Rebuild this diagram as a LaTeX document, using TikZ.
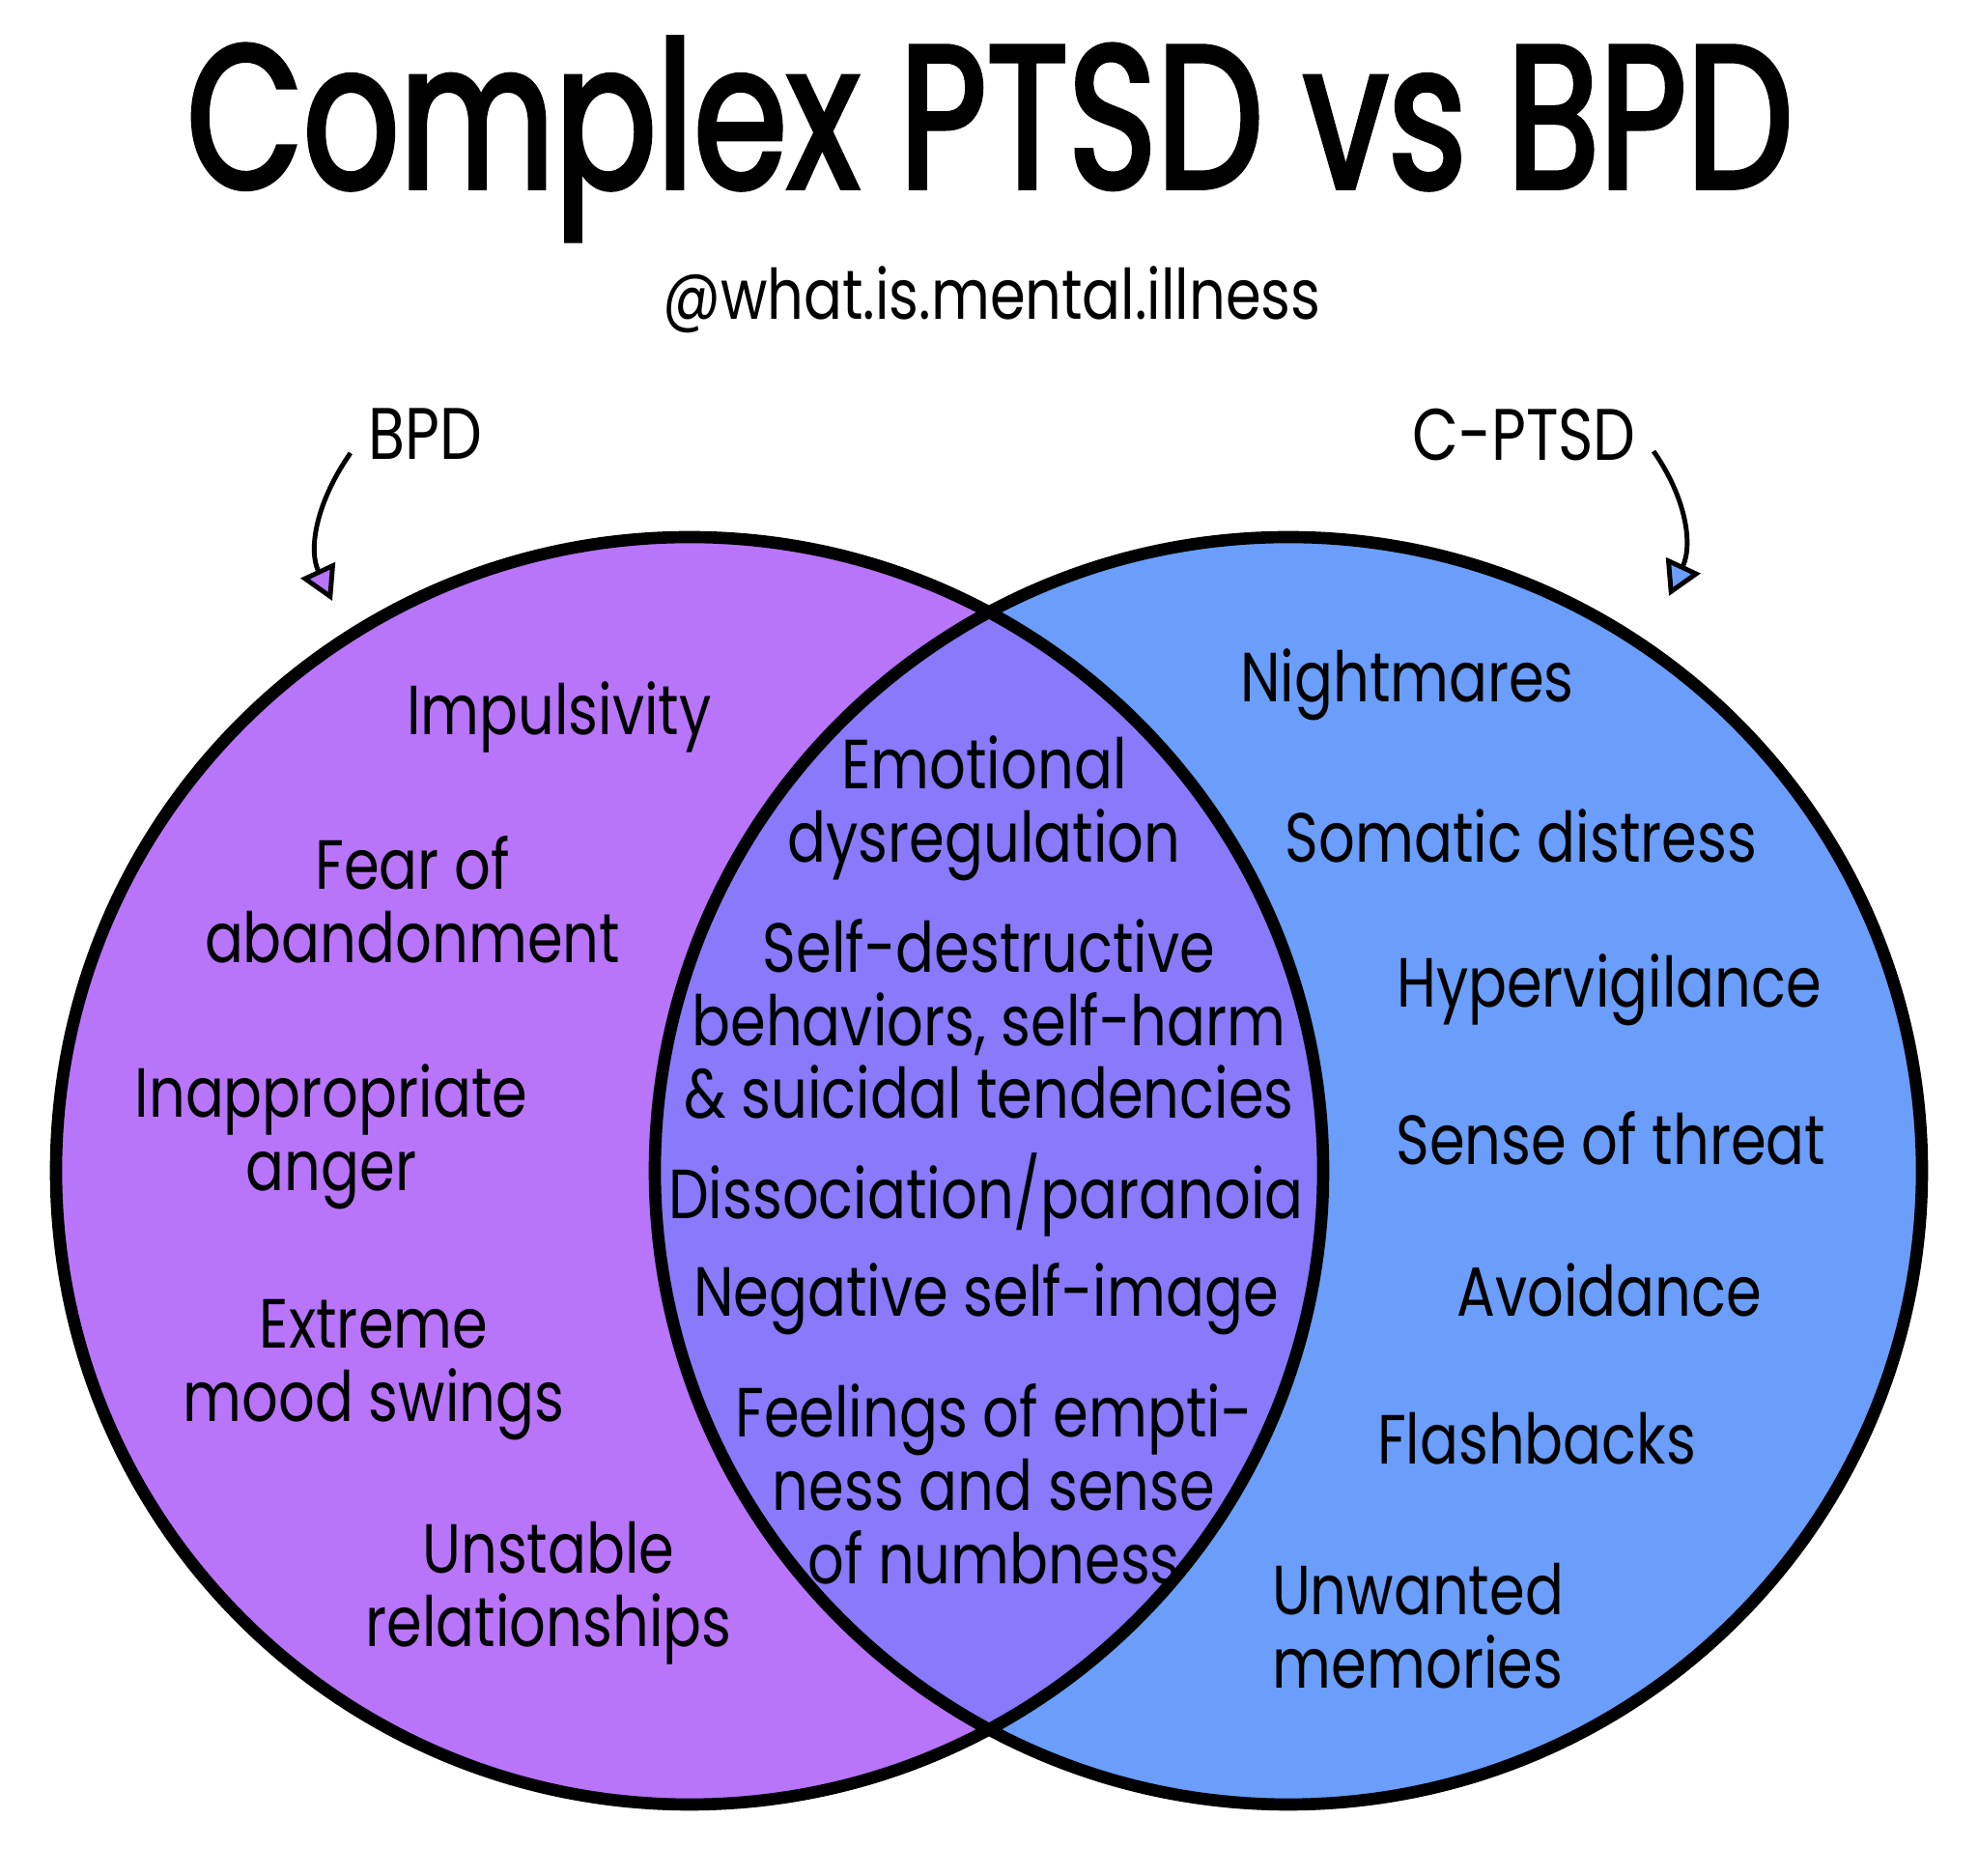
\documentclass[tikz,border=0pt]{standalone}
\usepackage{fontspec}
\setmainfont{Poppins}[FakeStretch=0.82]
\newfontfamily\titlefont{Poppins}[FakeStretch=0.74,FakeBold=2.2]
\usetikzlibrary{positioning,arrows.meta}
\definecolor{bpdpurple}{RGB}{184,117,250}
\definecolor{ptsdblue}{RGB}{106,158,250}
\definecolor{bothviolet}{RGB}{138,121,250}

\begin{document}
\begin{tikzpicture}[
    set/.style={line width=3.6pt},
    item/.style={
        align=center,
        inner sep=0pt,
        font=\fontsize{20.5}{21.6}\selectfont,
    },
    tag/.style={inner sep=0pt, font=\fontsize{21.5}{24}\selectfont},
    pointer/.style={line width=1.4pt, -{Triangle[length=10pt,width=11pt,fill=#1]}},
    ]
    \useasboundingbox (0,0) rectangle (20.48,19.42);
    \fill[white] (0,0) rectangle (20.48,19.42);

    \coordinate (bpd) at (7.14,7.30);
    \coordinate (ptsd) at (13.34,7.30);

    \fill[bpdpurple] (bpd) circle (6.56);
    \fill[ptsdblue] (ptsd) circle (6.56);
    \begin{scope}
        \clip (bpd) circle (6.56);
        \fill[bothviolet] (ptsd) circle (6.56);
    \end{scope}
    \draw[set] (bpd) circle (6.56);
    \draw[set] (ptsd) circle (6.56);

    \node[font=\titlefont\fontsize{60}{60}\selectfont, inner sep=0pt] (title) at (10.25,17.98) {Complex PTSD vs BPD};
    \node[font=\fontsize{20.5}{22}\selectfont, inner sep=0pt] (handle) at (10.27,16.32) {@what.is.mental.illness};

    \node[tag] (bpdtag) at (4.40,14.93) {BPD};
    \node[tag] (ptsdtag) at (15.78,14.92) {C-PTSD};
    \coordinate (bpdtip) at (3.44,13.20);
    \coordinate (ptsdtip) at (17.28,13.25);
    \draw[pointer=bpdpurple] ([xshift=-5pt,yshift=2pt]bpdtag.south west) to[out=235,in=115] (bpdtip);
    \draw[pointer=ptsdblue] ([xshift=5pt,yshift=3pt]ptsdtag.south east) to[out=-55,in=65] (ptsdtip);

    \node[item] (impulse) at (5.79,12.00) {Impulsivity};
    \node[item] (fear) at (4.27,10.11) {Fear of\\abandonment};
    \node[item] (anger) at (3.43,7.65) {Inappropriate\\anger};
    \node[item] (mood) at (3.87,5.24) {Extreme\\mood swings};
    \node[item] (unstable) at (5.68,2.93) {Unstable\\relationships};

    \node[item] (emotion) at (10.19,11.05) {Emotional\\dysregulation};
    \node[item] (harm) at (10.24,8.87) {Self-destructive\\behaviors, self-harm\\\& suicidal tendencies};
    \node[item] (dissoc) at (10.21,7.05) {Dissociation/paranoia};
    \node[item] (image) at (10.21,5.97) {Negative self-image};
    \node[item] (empty) at (10.29,4.06) {Feelings of empti-\\ness and sense\\of numbness};

    \node[item] (night) at (14.57,12.33) {Nightmares};
    \node[item] (somatic) at (15.75,10.77) {Somatic distress};
    \node[item] (hyper) at (16.66,9.17) {Hypervigilance};
    \node[item] (threat) at (16.68,7.64) {Sense of threat};
    \node[item] (avoid) at (16.66,6.07) {Avoidance};
    \node[item] (flash) at (15.91,4.53) {Flashbacks};
    \node[item] (memory) at (14.68,2.59) {Unwanted\\memories};

\end{tikzpicture}
\end{document}
